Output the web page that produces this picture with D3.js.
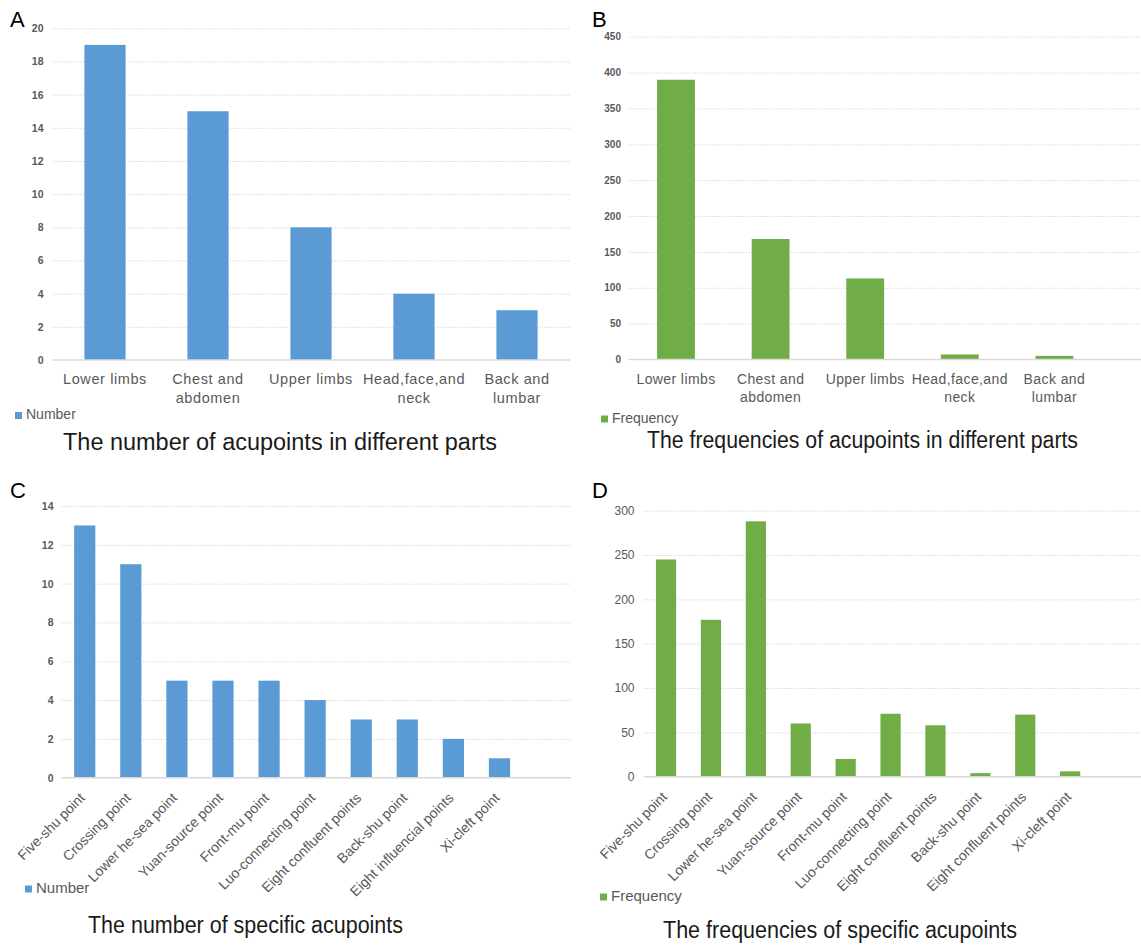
<!DOCTYPE html>
<html>
<head>
<meta charset="utf-8">
<script src="https://cdn.jsdelivr.net/npm/d3@7"></script>
<style>
  body { margin: 0; background: #fff; }
  svg { display: block; }
  text { font-family: "Liberation Sans", Arial, sans-serif; }
</style>
</head>
<body>
<svg id="fig" width="1141" height="945"></svg>
<script>
// ---- Data ----
const partLabels = [["Lower limbs"], ["Chest and", "abdomen"], ["Upper limbs"], ["Head,face,and", "neck"], ["Back and", "lumbar"]];
const partNumber = [19, 15, 8, 4, 3];
const partFrequency = [390, 168, 113, 7, 5];
const partNumberTicks = [0, 2, 4, 6, 8, 10, 12, 14, 16, 18, 20];
const partFrequencyTicks = [0, 50, 100, 150, 200, 250, 300, 350, 400, 450];

const specificNumberLabels = ["Five-shu point", "Crossing point", "Lower he-sea point", "Yuan-source point", "Front-mu point",
  "Luo-connecting point", "Eight confluent points", "Back-shu point", "Eight influencial points", "Xi-cleft point"];
const specificNumber = [13, 11, 5, 5, 5, 4, 3, 3, 2, 1];
const specificNumberTicks = [0, 2, 4, 6, 8, 10, 12, 14];

const specificFrequencyLabels = ["Five-shu point", "Crossing point", "Lower he-sea point", "Yuan-source point", "Front-mu point",
  "Luo-connecting point", "Eight confluent points", "Back-shu point", "Eight confluent points", "Xi-cleft point"];
const specificFrequency = [245, 177, 288, 60, 20, 71, 58, 4, 70, 6];
const specificFrequencyTicks = [0, 50, 100, 150, 200, 250, 300];

const BLUE = "#5B9BD5", GREEN = "#70AD47";
const GRID = "#d9d9d9", AXISTXT = "#595959";

const svg = d3.select("#fig");

function panel(cfg) {
  const g = svg.append("g");
  const idx = cfg.values.map((_, i) => i);
  const x = d3.scaleBand().domain(idx).range(cfg.xRange)
    .paddingInner(cfg.padIn).paddingOuter(cfg.padIn / 2);
  const y = d3.scaleLinear().domain([0, cfg.ticks[cfg.ticks.length - 1]]).range([cfg.yBase, cfg.yTop]);

  // dotted gridlines
  const grid = g.append("g").attr("transform", `translate(${cfg.gridX0},0)`)
    .call(d3.axisLeft(y).tickValues(cfg.ticks.filter(t => t > 0)).tickSize(-(cfg.gridX1 - cfg.gridX0)).tickFormat(""));
  grid.select(".domain").remove();
  grid.selectAll("line").attr("stroke", GRID).attr("stroke-width", 1).attr("stroke-dasharray", "1.5,1.5");

  // y tick labels
  const ya = g.append("g").attr("transform", `translate(${cfg.tickRight},0)`)
    .call(d3.axisLeft(y).tickValues(cfg.ticks).tickSize(0).tickPadding(0));
  ya.select(".domain").remove();
  ya.selectAll("text").attr("fill", AXISTXT).attr("font-size", cfg.tickSize)
    .attr("font-weight", cfg.tickWeight).attr("font-family", "'Liberation Sans', Arial, sans-serif");

  // bars
  g.append("g").selectAll("rect").data(cfg.values).join("rect")
    .attr("x", (d, i) => x(i)).attr("width", x.bandwidth())
    .attr("y", d => y(d)).attr("height", d => y(0) - y(d))
    .attr("fill", cfg.color);

  // base line
  g.append("line").attr("x1", cfg.gridX0).attr("x2", cfg.gridX1)
    .attr("y1", y(0)).attr("y2", y(0)).attr("stroke", GRID).attr("stroke-width", 1.5);

  // category axis
  const xa = g.append("g").attr("transform", `translate(0,${y(0)})`)
    .call(d3.axisBottom(x).tickSize(0).tickFormat(""));
  xa.select(".domain").remove();
  xa.selectAll(".tick text").remove();
  if (cfg.rotate) {
    xa.selectAll(".tick").append("text")
      .attr("text-anchor", "end")
      .attr("transform", `translate(${cfg.labelDx},${cfg.labelDy}) rotate(-45)`)
      .attr("fill", AXISTXT).attr("font-size", cfg.labelSize)
      .text(i => cfg.labels[i]);
  } else {
    const t = xa.selectAll(".tick").append("text")
      .attr("text-anchor", "middle").attr("fill", AXISTXT)
      .attr("font-size", cfg.labelSize).attr("letter-spacing", cfg.labelSpacing || 0);
    t.selectAll("tspan").data(i => cfg.labels[i]).join("tspan")
      .attr("x", 0).attr("y", (d, k) => cfg.labelDy + k * cfg.lineGap).text(d => d);
  }

  // legend
  const lg = g.append("g").attr("transform", `translate(${cfg.legend[0]},${cfg.legend[1]})`);
  lg.append("rect").attr("x", 0).attr("y", -7).attr("width", 7).attr("height", 7).attr("fill", cfg.color);
  lg.append("text").attr("x", 11).attr("y", 0).attr("fill", AXISTXT)
    .attr("font-size", cfg.legendSize).text(cfg.legendText);

  // caption and panel letter
  g.append("text").attr("x", cfg.title[0]).attr("y", cfg.title[1]).attr("text-anchor", "middle")
    .attr("fill", "#1a1a1a").attr("font-size", cfg.titleSize)
    .attr("textLength", cfg.titleWidth).attr("lengthAdjust", "spacingAndGlyphs")
    .text(cfg.titleText);
  g.append("text").attr("x", cfg.letter[0]).attr("y", cfg.letter[1])
    .attr("fill", "#000").attr("font-size", 22).text(cfg.letterText);
}

panel({
  values: partNumber, labels: partLabels, ticks: partNumberTicks, color: BLUE,
  xRange: [53.5, 568.5], padIn: 0.6, yBase: 360, yTop: 28.3,
  gridX0: 52.5, gridX1: 570, tickRight: 43.5, tickSize: 10.5, tickWeight: "bold",
  labelSize: 14.5, labelSpacing: 0.6, labelDy: 24, lineGap: 18.5,
  legend: [15, 419], legendSize: 14, legendText: "Number",
  title: [280, 450], titleSize: 23, titleWidth: 434, titleText: "The number of acupoints in different parts",
  letter: [10, 27], letterText: "A"
});

panel({
  values: partFrequency, labels: partLabels, ticks: partFrequencyTicks, color: GREEN,
  xRange: [628.7, 1101.7], padIn: 0.6, yBase: 359.5, yTop: 36.7,
  gridX0: 628.5, gridX1: 1141, tickRight: 621, tickSize: 10, tickWeight: "bold",
  labelSize: 14, labelSpacing: 0.4, labelDy: 24, lineGap: 18.5,
  legend: [601, 422.5], legendSize: 14, legendText: "Frequency",
  title: [862.5, 448], titleSize: 23, titleWidth: 431, titleText: "The frequencies of acupoints in different parts",
  letter: [592, 27], letterText: "B"
});

panel({
  values: specificNumber, labels: specificNumberLabels, ticks: specificNumberTicks, color: BLUE,
  xRange: [61.7, 522.5], padIn: 0.54, yBase: 777.7, yTop: 506,
  gridX0: 61.7, gridX1: 571, tickRight: 53.5, tickSize: 10.5, tickWeight: "bold",
  rotate: true, labelSize: 14, labelDx: 1, labelDy: 21,
  legend: [25, 892.5], legendSize: 15, legendText: "Number",
  title: [245.5, 933], titleSize: 23, titleWidth: 315, titleText: "The number of specific acupoints",
  letter: [10, 498], letterText: "C"
});

panel({
  values: specificFrequency, labels: specificFrequencyLabels, ticks: specificFrequencyTicks, color: GREEN,
  xRange: [643.6, 1092.6], padIn: 0.55, yBase: 776.7, yTop: 510.7,
  gridX0: 643.5, gridX1: 1141, tickRight: 634.5, tickSize: 12, tickWeight: "normal",
  rotate: true, labelSize: 14, labelDx: 2, labelDy: 21,
  legend: [600, 900.5], legendSize: 15, legendText: "Frequency",
  title: [840, 938], titleSize: 23, titleWidth: 354, titleText: "The frequencies of specific acupoints",
  letter: [592, 498], letterText: "D"
});
</script>
</body>
</html>
